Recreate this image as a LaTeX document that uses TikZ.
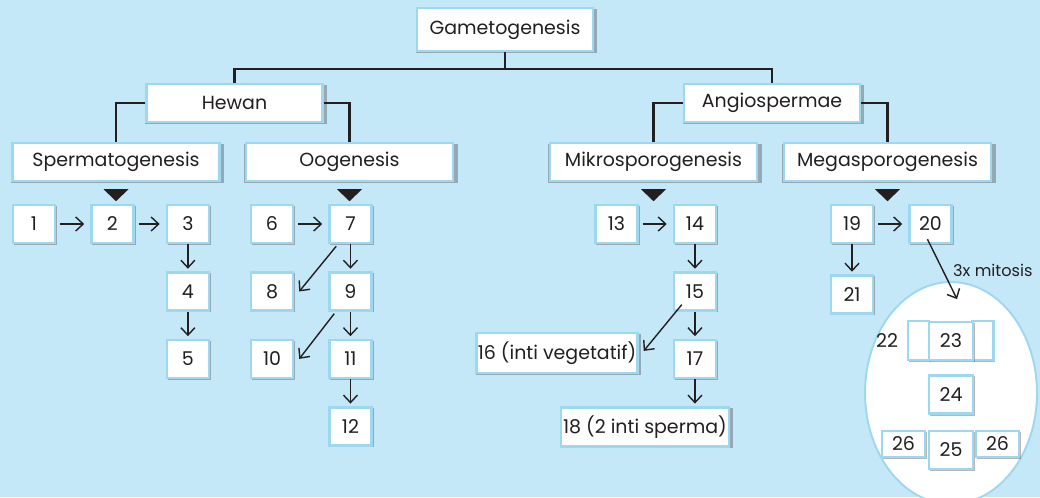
\documentclass[tikz,border=0pt]{standalone}
\usepackage{fontspec}
\setmainfont{Poppins}
\usetikzlibrary{arrows.meta,positioning,shapes.geometric,shadows}
\definecolor{skyback}{HTML}{C5E8F8}
\definecolor{boxedge}{HTML}{9ED8F0}
\definecolor{inkgray}{HTML}{231F20}

\begin{document}
\begin{tikzpicture}[
    x=0.02cm, y=0.02cm,
    every node/.style={font=\fontsize{10.8}{13}\selectfont, text=inkgray},
    box/.style={
        draw=boxedge,
        fill=white,
        line width=1.4pt,
        inner sep=0pt,
        align=center,
        general shadow={fill=black!70, shadow scale=1.03, shadow xshift=0.8pt,
                        shadow yshift=-0.8pt, opacity=0.4}
    },
    head/.style={box, minimum width=3.52cm, minimum height=0.76cm},
    sub/.style={box, minimum width=4.14cm, minimum height=0.76cm},
    num/.style={box, minimum width=0.84cm, minimum height=0.76cm},
    tree/.style={line width=1.6pt, draw=inkgray},
    arr/.style={
        -{Straight Barb[length=1.5mm,width=2.8mm]},
        line width=0.8pt, draw=inkgray,
        shorten <=0.08cm, shorten >=0.12cm
    },
    down/.style={arr, shorten <=0pt, shorten >=0.05cm}
    ]
    \path[use as bounding box, fill=skyback] (0,0) rectangle (1040,-497);
    \clip (0,0) rectangle (1040,-497);

    % top of the tree
    \node[head, minimum height=0.86cm] (game) at (505,-29.5) {Gametogenesis};
    \node[head] (hewan) at (234.5,-103) {Hewan};
    \node[head] (angio) at (772,-103) {Angiospermae};

    \node[sub] (sperm) at (116,-162) {Spermatogenesis};
    \node[sub] (oog) at (349.5,-162) {Oogenesis};
    \node[sub] (mikro) at (653.5,-162) {Mikrosporogenesis};
    \node[sub] (mega) at (887.5,-162) {Megasporogenesis};

    \coordinate (split) at (505,-69);
    \draw[tree] (game) -- (split);
    \draw[tree] (hewan.north) |- (split) -| (angio.north);
    \draw[tree] (hewan.west) -| (sperm.north);
    \draw[tree] (hewan.east) -| (oog.north);
    \draw[tree] (angio.west) -| (mikro.north);
    \draw[tree] (angio.east) -| (mega.north);

    \foreach \h in {sperm,oog,mikro,mega}
        \fill[inkgray] ([yshift=-0.14cm]\h.south) ++(-12.5,0) -- ++(25,0) -- ++(-12.5,-12) -- cycle;

    % spermatogenesis
    \node[num] (b1) at (34,-224) {1};
    \node[num, right=0.68cm of b1] (b2) {2};
    \node[num, right=0.62cm of b2] (b3) {3};
    \node[num, below=0.54cm of b3] (b4) {4};
    \node[num, below=0.54cm of b4] (b5) {5};
    \draw[arr] (b1) -- (b2);
    \draw[arr] (b2) -- (b3);
    \draw[down] (b3) -- (b4);
    \draw[down] (b4) -- (b5);

    % oogenesis
    \node[num] (b6) at (272,-224) {6};
    \node[num, right=0.68cm of b6] (b7) {7};
    \node[num, below=0.54cm of b6] (b8) {8};
    \node[num, below=0.54cm of b7] (b9) {9};
    \node[num, below=0.54cm of b8] (b10) {10};
    \node[num, below=0.54cm of b9] (b11) {11};
    \node[num, below=0.54cm of b11] (b12) {12};
    \draw[arr] (b6) -- (b7);
    \draw[down] (b7) -- (b9);
    \draw[down] (b9) -- (b11);
    \draw[down] (b11) -- (b12);
    \draw[arr, shorten <=0pt, shorten >=0pt] ([shift={(8,-2)}]b7.south west) -- ([xshift=0.1cm]b8.east);
    \draw[arr, shorten <=0pt, shorten >=0pt] ([shift={(6,-2)}]b9.south west) -- ([xshift=0.1cm]b10.east);

    % mikrosporogenesis
    \node[num] (b13) at (616.5,-224) {13};
    \node[num, right=0.68cm of b13] (b14) {14};
    \node[num, below=0.54cm of b14] (b15) {15};
    \node[num, below=0.54cm of b15] (b17) {17};
    \node[box, minimum width=3.22cm, minimum height=0.8cm,
          left=0.68cm of b17, yshift=0.12cm] (b16) {16 (inti vegetatif)};
    \node[box, minimum width=3.36cm, minimum height=0.78cm,
          below=0.54cm of b17, xshift=-1cm] (b18) {18 (2 inti sperma)};
    \draw[arr] (b13) -- (b14);
    \draw[down] (b14) -- (b15);
    \draw[down] (b15) -- (b17);
    \draw[down] (b17.south) -- (b17.south |- b18.north);
    \draw[arr, shorten <=0pt, shorten >=0pt] ([shift={(9,7)}]b15.south west) -- ([shift={(5,2)}]b16.east);

    % megasporogenesis
    \node[num] (b19) at (852,-224) {19};
    \node[num, right=0.68cm of b19] (b20) {20};
    \node[num, below=0.6cm of b19] (b21) {21};
    \draw[arr] (b19) -- (b20);
    \draw[down] (b19) -- (b21);

    \node[draw=boxedge, fill=white, line width=1.1pt, ellipse,
          minimum width=3.44cm, minimum height=4.44cm] (sac) at (951,-393) {};
    \draw[arr, shorten <=0pt, shorten >=0pt] ([shift={(-3,5)}]b20.south) -- ([shift={(6,-18)}]sac.north);
    \node[anchor=west, font=\fontsize{9.2}{11}\selectfont] (mitosis) at (947,-270) {3x mitosis};

    \node[box, minimum width=0.42cm, minimum height=0.78cm] (b22a) at (918.5,-340.5) {};
    \node[box, minimum width=0.42cm, minimum height=0.78cm] (b22b) at (983,-340.5) {};
    \node[num, minimum width=0.88cm] (b23) at (951,-341) {23};
    \node (l22) at (887,-341) {22};
    \node[num, minimum width=0.88cm] (b24) at (951,-394.5) {24};
    \node[box, minimum width=0.86cm, minimum height=0.52cm] (b26a) at (903.5,-444) {26};
    \node[box, minimum width=0.86cm, minimum height=0.52cm] (b26b) at (997.5,-444) {26};
    \node[num, minimum width=0.88cm] (b25) at (951,-450) {25};
\end{tikzpicture}
\end{document}
